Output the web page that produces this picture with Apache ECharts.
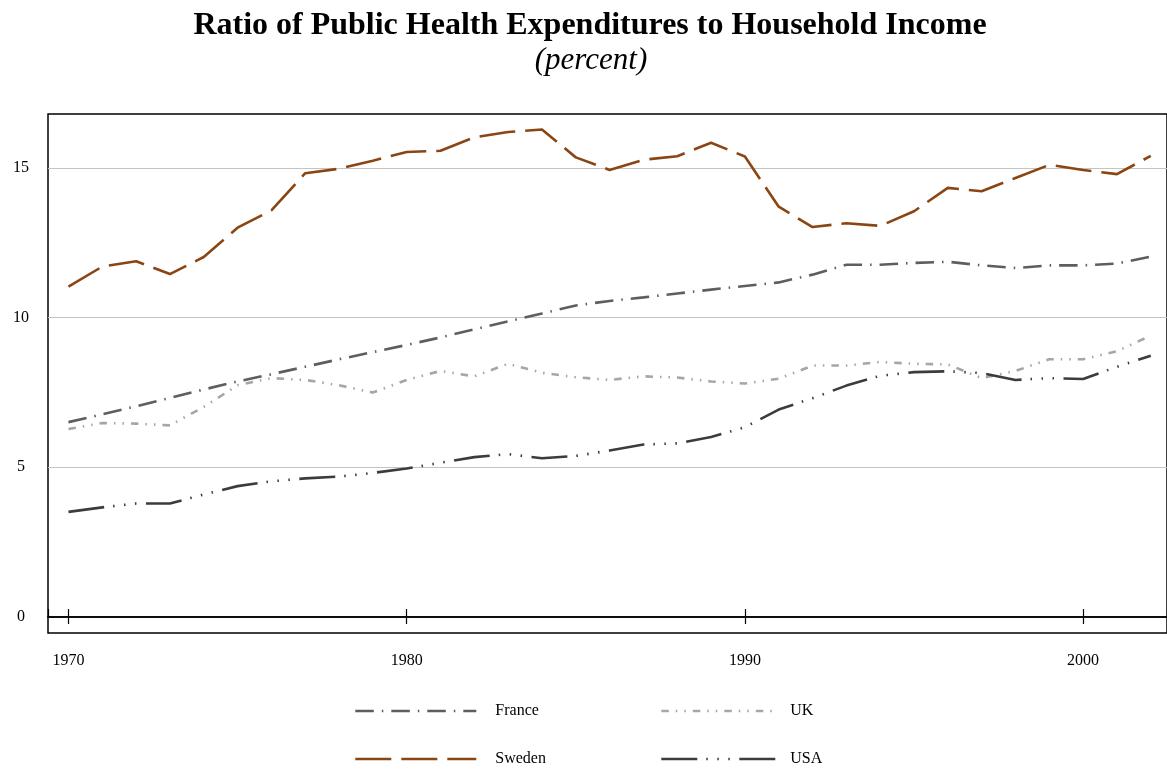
<!DOCTYPE html>
<html>
<head>
<meta charset="utf-8">
<script src="https://cdn.jsdelivr.net/npm/echarts@6/dist/echarts.min.js"></script>
<style>
html,body{margin:0;padding:0;background:#fff;}
#chart{width:1167px;height:771px;}
</style>
</head>
<body>
<div id="chart"></div>
<script>
var years = [1970,1971,1972,1973,1974,1975,1976,1977,1978,1979,1980,1981,1982,1983,1984,1985,1986,1987,1988,1989,1990,1991,1992,1993,1994,1995,1996,1997,1998,1999,2000,2001,2002];
var france = [6.5,6.76,7.03,7.31,7.59,7.86,8.1,8.35,8.6,8.84,9.08,9.33,9.6,9.87,10.13,10.4,10.55,10.67,10.8,10.93,11.05,11.17,11.43,11.76,11.76,11.82,11.86,11.74,11.65,11.74,11.74,11.8,12.03];
var uk = [6.27,6.47,6.45,6.39,7.01,7.73,7.97,7.91,7.73,7.49,7.91,8.21,8.03,8.45,8.15,8.0,7.91,8.03,7.99,7.86,7.79,7.95,8.39,8.39,8.51,8.45,8.43,7.97,8.21,8.6,8.6,8.87,9.39];
var sweden = [11.03,11.7,11.88,11.45,12.02,13.0,13.58,14.82,14.97,15.24,15.53,15.57,16.02,16.2,16.28,15.35,14.93,15.27,15.39,15.84,15.38,13.7,13.02,13.15,13.06,13.55,14.33,14.22,14.66,15.1,14.93,14.79,15.4];
var usa = [3.5,3.65,3.78,3.78,4.08,4.36,4.52,4.62,4.68,4.8,4.95,5.14,5.33,5.43,5.29,5.37,5.55,5.75,5.79,6.0,6.33,6.92,7.3,7.72,8.05,8.17,8.2,8.14,7.91,7.97,7.94,8.35,8.72];
var seriesNames = ['France','UK','Sweden','USA'];
var titleText = 'Ratio of Public Health Expenditures to Household Income';
var subtitleText = '(percent)';

function pairs(vals){ return years.map(function(y,i){ return [y, vals[i]]; }); }

var FONT = '"Liberation Serif","Times New Roman",serif';
var chart = echarts.init(document.getElementById('chart'), null, {renderer:'canvas'});

var Y_MIN = -0.55, Y_MAX = 16.8, GRID_TOP = 114, GRID_BOTTOM = 138, H = 771;
// pixel distance between the plot's lower edge and the zero line (axis styling only)
var zeroOffset = -((H - GRID_BOTTOM - GRID_TOP) * (0 - Y_MIN) / (Y_MAX - Y_MIN));

var xBase = {
  type:'value', min:1969.395, max:2002.48, splitNumber:3, gridIndex:0, position:'bottom',
  offset:zeroOffset, splitLine:{show:false}
};

function leg(name, left, top, pad, w){
  return {
    data:[name], left:left, top:top, padding:0, itemWidth:w, itemHeight:14,
    textStyle:{fontFamily:FONT, fontSize:16, color:'#000', padding:[0,0,0,pad]},
    itemStyle:{opacity:0, borderWidth:0},
    lineStyle:{width:2.6},
    selectedMode:false
  };
}

chart.setOption({
  backgroundColor:'#fff',
  animation:false,
  title:[
    {text:titleText, left:585, top:5, textAlign:'center',
     textStyle:{fontFamily:FONT, fontWeight:'bold', fontSize:32, color:'#000'}},
    {text:subtitleText, left:586, top:40, textAlign:'center',
     textStyle:{fontFamily:FONT, fontStyle:'italic', fontWeight:'normal', fontSize:31, color:'#000'}}
  ],
  legend:[
    leg('France',354,703,14,121),
    leg('UK',660,703,7,117),
    leg('Sweden',354,751,14,121),
    leg('USA',660,751,7,117)
  ],
  grid:{left:48, right:-2, top:GRID_TOP, bottom:GRID_BOTTOM, show:true, borderColor:'#000', borderWidth:1.5, backgroundColor:'#fff'},
  xAxis:[
    Object.assign({}, xBase, {
      z:5,
      axisLine:{show:true, onZero:false, lineStyle:{color:'#000', width:1.5}},
      axisTick:{show:true, inside:false, length:7.5, lineStyle:{color:'#000', width:1.2}},
      axisLabel:{show:true, margin:36, showMinLabel:false, showMaxLabel:false,
        formatter:function(v){ return String(v); },
        fontFamily:FONT, fontSize:16, color:'#000'}
    }),
    Object.assign({}, xBase, {
      z:5,
      axisLine:{show:true, onZero:false, lineStyle:{color:'#000', width:1.5}},
      axisTick:{show:true, inside:true, length:7.5, lineStyle:{color:'#000', width:1.2}},
      axisLabel:{show:false}
    })
  ],
  yAxis:{
    type:'value', min:Y_MIN, max:Y_MAX, splitNumber:4,
    axisLine:{show:false, onZero:false},
    axisTick:{show:false},
    axisLabel:{show:true, margin:27, align:'center', showMinLabel:false, showMaxLabel:false,
      fontFamily:FONT, fontSize:16, color:'#000'},
    splitLine:{show:true, showMinLine:false, showMaxLine:false, lineStyle:{color:'#c4c4c4', width:1.2}}
  },
  series:[
    {name:seriesNames[0], type:'line', data:pairs(france), symbol:'none', z:3,
     lineStyle:{color:'#5e5e5e', width:2.6, type:[18.5,8,1.5,8]}, itemStyle:{color:'#5e5e5e'}},
    {name:seriesNames[1], type:'line', data:pairs(uk), symbol:'none', z:3,
     lineStyle:{color:'#a6a6a6', width:2.6, type:[7.5,7,1.5,7,1.5,7]}, itemStyle:{color:'#a6a6a6'}},
    {name:seriesNames[2], type:'line', data:pairs(sweden), symbol:'none', z:3,
     lineStyle:{color:'#8b4513', width:2.6, type:[36,10]}, itemStyle:{color:'#8b4513'}},
    {name:seriesNames[3], type:'line', data:pairs(usa), symbol:'none', z:3,
     lineStyle:{color:'#3c3c3c', width:2.6, type:[36,9,1.5,9.5,1.5,9.5,1.5,9.5]}, itemStyle:{color:'#3c3c3c'}}
  ]
});
</script>
</body>
</html>
